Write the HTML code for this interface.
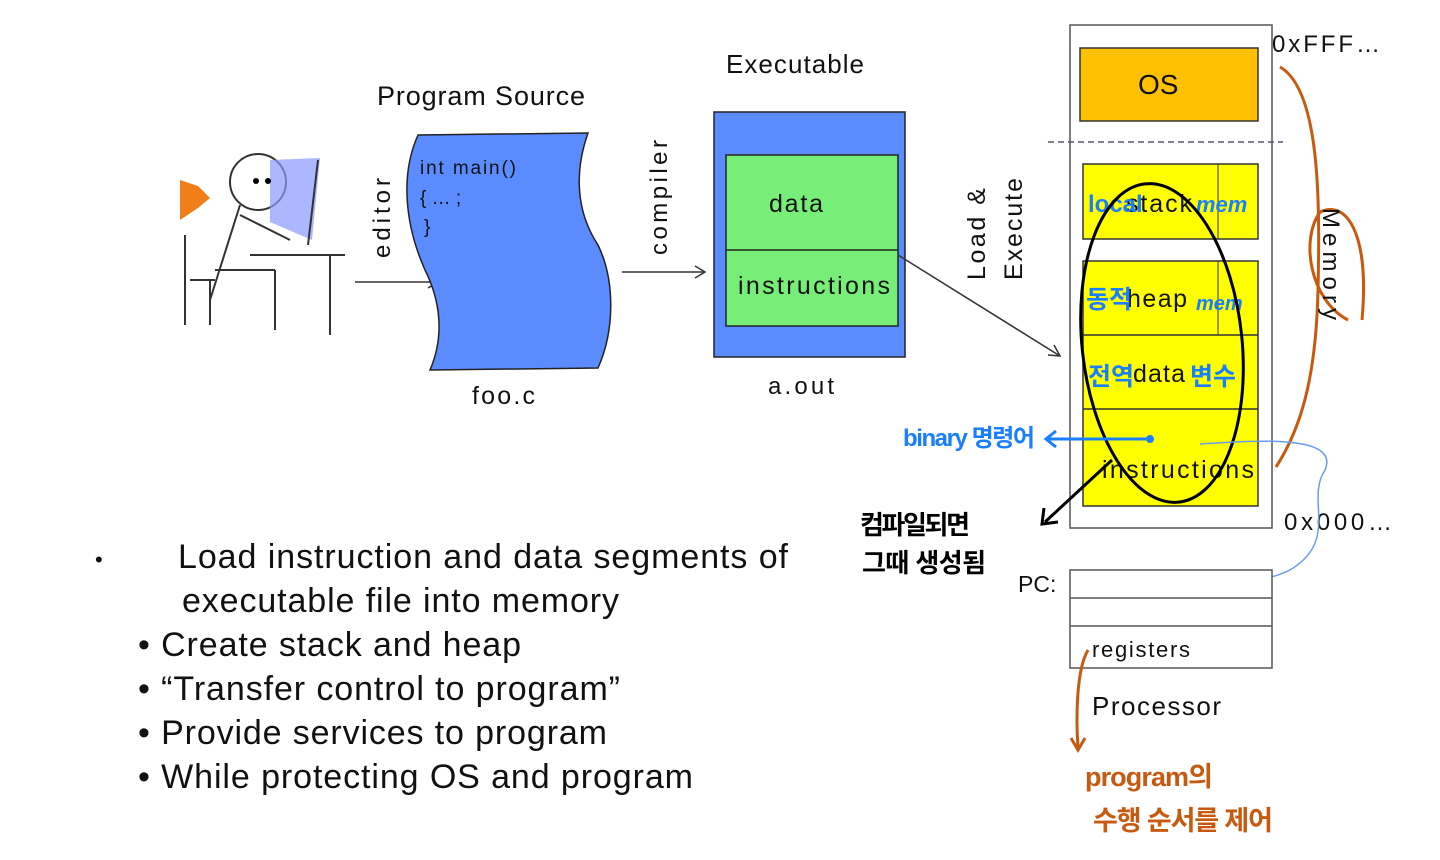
<!DOCTYPE html>
<html><head><meta charset="utf-8"><style>
body{margin:0;background:#fff;width:1440px;height:855px;overflow:hidden}
svg text{font-family:"Liberation Sans","Noto Sans CJK KR",sans-serif}
</style></head><body>
<svg width="1440" height="855" viewBox="0 0 1440 855" xmlns="http://www.w3.org/2000/svg">
<!-- person -->
<g stroke="#333" stroke-width="2" fill="none">
<polygon points="180,180 198,186 210,198 198,208 180,220" fill="#f07f1a" stroke="none"/>
<circle cx="258" cy="182" r="28" fill="#fff"/>
<polygon points="270,160 320,158 312,240 270,222" fill="#8899ff" stroke="none" opacity="0.7"/>
<line x1="318" y1="160" x2="308" y2="245"/>
<line x1="240" y1="205" x2="210" y2="300"/>
<line x1="240" y1="215" x2="290" y2="240"/>
<line x1="215" y1="270" x2="275" y2="270"/>
<line x1="275" y1="270" x2="275" y2="330"/>
<line x1="250" y1="255" x2="345" y2="255"/>
<line x1="330" y1="255" x2="330" y2="335"/>
<line x1="185" y1="235" x2="185" y2="325"/>
<line x1="190" y1="280" x2="215" y2="280"/>
<line x1="210" y1="280" x2="210" y2="325"/>
</g>
<circle cx="256" cy="181" r="3" fill="#000"/><circle cx="268" cy="181" r="3" fill="#000"/>
<!-- editor -->
<text x="390" y="258" font-size="24" transform="rotate(-90 390 258)" fill="#111" textLength="80">editor</text>
<line x1="355" y1="282" x2="438" y2="282" stroke="#333" stroke-width="1.5"/>
<polyline points="428,276 438,282 428,288" fill="none" stroke="#333" stroke-width="1.5"/>
<!-- source -->
<text x="377" y="105" font-size="27" fill="#111" textLength="208">Program Source</text>
<path d="M418,135 L588,133 C575,170 575,210 598,245 C615,280 615,330 598,368 L430,370 C445,335 440,300 425,270 C405,225 400,175 418,135 Z" fill="#5b8cff" stroke="#222" stroke-width="1.5"/>
<text x="420" y="174" font-size="19" fill="#111" textLength="96">int main()</text>
<text x="420" y="204" font-size="19" fill="#111">{ … ;</text>
<text x="424" y="233" font-size="19" fill="#111">}</text>
<text x="472" y="404" font-size="25" fill="#111" textLength="63">foo.c</text>
<!-- compiler -->
<text x="667" y="255" font-size="24" transform="rotate(-90 667 255)" fill="#111" textLength="115">compiler</text>
<line x1="622" y1="272" x2="705" y2="272" stroke="#333" stroke-width="1.5"/>
<polyline points="695,266 705,272 695,278" fill="none" stroke="#333" stroke-width="1.5"/>
<!-- executable -->
<text x="726" y="73" font-size="26" fill="#111" textLength="138">Executable</text>
<rect x="714" y="112" width="191" height="245" fill="#5b8cff" stroke="#222" stroke-width="1.5"/>
<rect x="726" y="155" width="172" height="171" fill="#77ee77" stroke="#222" stroke-width="1.5"/>
<line x1="726" y1="250" x2="898" y2="250" stroke="#222" stroke-width="1.5"/>
<text x="769" y="212" font-size="25" fill="#111" textLength="54">data</text>
<text x="738" y="294" font-size="25" fill="#111" textLength="152">instructions</text>
<text x="768" y="394" font-size="24" fill="#111" textLength="66">a.out</text>
<!-- load & execute -->
<text x="985" y="280" font-size="25" transform="rotate(-90 985 280)" fill="#111" textLength="92">Load &amp;</text>
<text x="1022" y="280" font-size="25" transform="rotate(-90 1022 280)" fill="#111" textLength="102">Execute</text>
<line x1="898" y1="255" x2="1060" y2="356" stroke="#333" stroke-width="1.5"/>
<polyline points="1048,355 1060,356 1054,345" fill="none" stroke="#333" stroke-width="1.5"/>
<!-- memory -->
<rect x="1070" y="25" width="202" height="503" fill="#fff" stroke="#555" stroke-width="1.5"/>
<rect x="1080" y="48" width="178" height="73" fill="#ffc000" stroke="#333" stroke-width="1.5"/>
<text x="1138" y="94" font-size="28" fill="#111">OS</text>
<line x1="1048" y1="142" x2="1283" y2="142" stroke="#557" stroke-width="1.5" stroke-dasharray="6,4"/>
<rect x="1083" y="164" width="175" height="75" fill="#ffff00" stroke="#333" stroke-width="1.5"/>
<line x1="1218" y1="164" x2="1218" y2="239" stroke="#333"/>
<rect x="1083" y="261" width="175" height="245" fill="#ffff00" stroke="#333" stroke-width="1.5"/>
<line x1="1218" y1="261" x2="1218" y2="335" stroke="#333"/>
<line x1="1083" y1="335" x2="1258" y2="335" stroke="#333" stroke-width="1.5"/>
<line x1="1083" y1="409" x2="1258" y2="409" stroke="#333" stroke-width="1.5"/>
<text x="1126" y="212" font-size="25" fill="#111" textLength="66">stack</text>
<text x="1127" y="307" font-size="25" fill="#111" textLength="60">heap</text>
<text x="1133" y="382" font-size="25" fill="#111" textLength="52">data</text>
<text x="1102" y="478" font-size="25" fill="#111" textLength="152">instructions</text>
<text x="1088" y="212" font-size="24" fill="#1a7fff" font-weight="bold">local</text>
<text x="1196" y="212" font-size="22" fill="#1a7fff" font-weight="bold" font-style="italic">mem</text>
<text x="1086" y="308" font-size="25" fill="#1a7fff" font-weight="bold">동적</text>
<text x="1196" y="310" font-size="20" fill="#1a7fff" font-weight="bold" font-style="italic">mem</text>
<text x="1088" y="385" font-size="25" fill="#1a7fff" font-weight="bold">전역</text>
<text x="1190" y="385" font-size="25" fill="#1a7fff" font-weight="bold">변수</text>
<ellipse cx="1162" cy="343" rx="80" ry="160" fill="none" stroke="#000" stroke-width="3" transform="rotate(-6 1162 343)"/>
<text x="1272" y="52" font-size="24" fill="#111" textLength="108">0xFFF…</text>
<text x="1284" y="530" font-size="24" fill="#111" textLength="108">0x000…</text>
<!-- orange brace -->
<path d="M1280,67 C1320,90 1320,200 1318,290 C1316,380 1300,430 1276,467" fill="none" stroke="#c85a10" stroke-width="3"/>
<path d="M1348,320 C1310,300 1300,240 1320,212 C1345,200 1370,230 1362,320" fill="none" stroke="#c85a10" stroke-width="3"/>
<text x="1323" y="208" font-size="24" transform="rotate(90 1323 208)" fill="#111" textLength="112">Memory</text>
<!-- binary -->
<text x="903" y="446" font-size="24" fill="#1a7fff" font-weight="bold" textLength="132">binary 명령어</text>
<line x1="1048" y1="439" x2="1150" y2="439" stroke="#1a7fff" stroke-width="3"/>
<polyline points="1056,431 1046,439 1056,447" fill="none" stroke="#1a7fff" stroke-width="3"/>
<circle cx="1150" cy="439" r="4" fill="#1a7fff"/>
<path d="M1200,444 C1260,440 1340,435 1325,470 C1305,500 1340,540 1290,570 C1260,585 1220,583 1200,583" fill="none" stroke="#6a9cf0" stroke-width="1.5"/>
<circle cx="1198" cy="583" r="4" fill="#3a7ff0"/>
<!-- black arrow -->
<line x1="1112" y1="460" x2="1045" y2="522" stroke="#000" stroke-width="3"/>
<polyline points="1044,508 1042,524 1058,522" fill="none" stroke="#000" stroke-width="3"/>
<text x="860" y="534" font-size="26" fill="#000" font-weight="bold" textLength="110">컴파일되면</text>
<text x="862" y="572" font-size="26" fill="#000" font-weight="bold" textLength="124">그때 생성됨</text>
<!-- processor -->
<text x="1018" y="592" font-size="23" fill="#111">PC:</text>
<rect x="1070" y="570" width="202" height="98" fill="#fff" stroke="#555" stroke-width="1.5"/>
<line x1="1070" y1="598" x2="1272" y2="598" stroke="#555" stroke-width="1.5"/>
<line x1="1070" y1="626" x2="1272" y2="626" stroke="#555" stroke-width="1.5"/>
<text x="1092" y="657" font-size="22" fill="#111" textLength="98">registers</text>
<text x="1092" y="715" font-size="26" fill="#111" textLength="129">Processor</text>
<path d="M1088,650 C1076,670 1076,720 1078,748" fill="none" stroke="#c85a10" stroke-width="3"/>
<polyline points="1071,738 1078,750 1085,738" fill="none" stroke="#c85a10" stroke-width="3"/>
<text x="1085" y="786" font-size="27" fill="#c85a10" font-weight="bold" textLength="128">program의</text>
<text x="1093" y="830" font-size="27" fill="#c85a10" font-weight="bold" textLength="180">수행 순서를 제어</text>
<!-- bullets -->
<g font-size="34" fill="#111">
<text x="95" y="567" font-size="22">•</text>
<text x="178" y="568" textLength="610">Load instruction and data segments of</text>
<text x="182" y="612" textLength="437">executable file into memory</text>
<text x="138" y="656" textLength="383">• Create stack and heap</text>
<text x="138" y="700" textLength="482">• “Transfer control to program”</text>
<text x="138" y="744" textLength="469">• Provide services to program</text>
<text x="138" y="788" textLength="555">• While protecting OS and program</text>
</g>
</svg>
</body></html>
